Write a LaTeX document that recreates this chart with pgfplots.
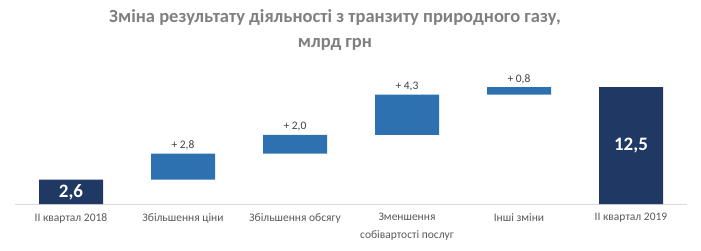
\documentclass[border=0pt]{standalone}
\usepackage{pgfplots}
\pgfplotsset{compat=1.18}
\usepackage{fontspec}
\setmainfont{Carlito}
\definecolor{navy}{HTML}{1F3864}
\definecolor{wfblue}{HTML}{2E71B1}
\definecolor{titlegray}{HTML}{7F7F7F}
\definecolor{labgray}{HTML}{595959}
\definecolor{valgray}{HTML}{404040}
\begin{document}
\begin{tikzpicture}
\path[use as bounding box] (0,0) rectangle (701pt,250pt);
\node[font=\fontsize{18.5}{25}\selectfont\bfseries, text=titlegray, align=center] at (335pt,220.5pt) {Зміна результату діяльності з транзиту природного газу,\\млрд грн};
\begin{axis}[
  at={(15pt,46pt)}, anchor=south west,
  x=112pt, y=9.35pt,
  xmin=-0.5, xmax=5.5, ymin=0, ymax=14,
  ybar stacked, bar width=64pt,
  axis x line*=bottom, axis y line=none,
  axis line style={draw=black!15, line width=0.8pt},
  xtick={0,1,2,3,4,5},
  xticklabels={ІІ квартал 2018, Збільшення ціни, Збільшення обсягу, {Зменшення\\собівартості послуг}, Інші зміни, ІІ квартал 2019},
  major tick length=0pt,
  xticklabel style={font=\fontsize{11.5}{18}\selectfont, text=labgray, align=center, yshift=-6pt},
  ytick=\empty,
  enlargelimits=false, clip=false,
  after end axis/.code={
    \node[above, font=\fontsize{11.5}{11.5}\selectfont, text=valgray] at (axis cs:1,5.4) {+ 2,8};
    \node[above, font=\fontsize{11.5}{11.5}\selectfont, text=valgray] at (axis cs:2,7.4) {+ 2,0};
    \node[above, font=\fontsize{11.5}{11.5}\selectfont, text=valgray] at (axis cs:3,11.7) {+ 4,3};
    \node[above, font=\fontsize{11.5}{11.5}\selectfont, text=valgray] at (axis cs:4,12.5) {+ 0,8};
    \node[font=\fontsize{19}{19}\selectfont\bfseries, text=white] at (axis cs:0,1.3) {2,6};
    \node[font=\fontsize{19}{19}\selectfont\bfseries, text=white] at (axis cs:5,6.25) {12,5};
  },
]
\addplot[draw=none, fill=none] coordinates {(0,0) (1,2.6) (2,5.4) (3,7.4) (4,11.7) (5,0)};
\addplot[draw=none, fill=navy] coordinates {(0,2.6) (1,0) (2,0) (3,0) (4,0) (5,12.5)};
\addplot[draw=none, fill=wfblue] coordinates {(0,0) (1,2.8) (2,2.0) (3,4.3) (4,0.8) (5,0)};
\end{axis}
\end{tikzpicture}
\end{document}
